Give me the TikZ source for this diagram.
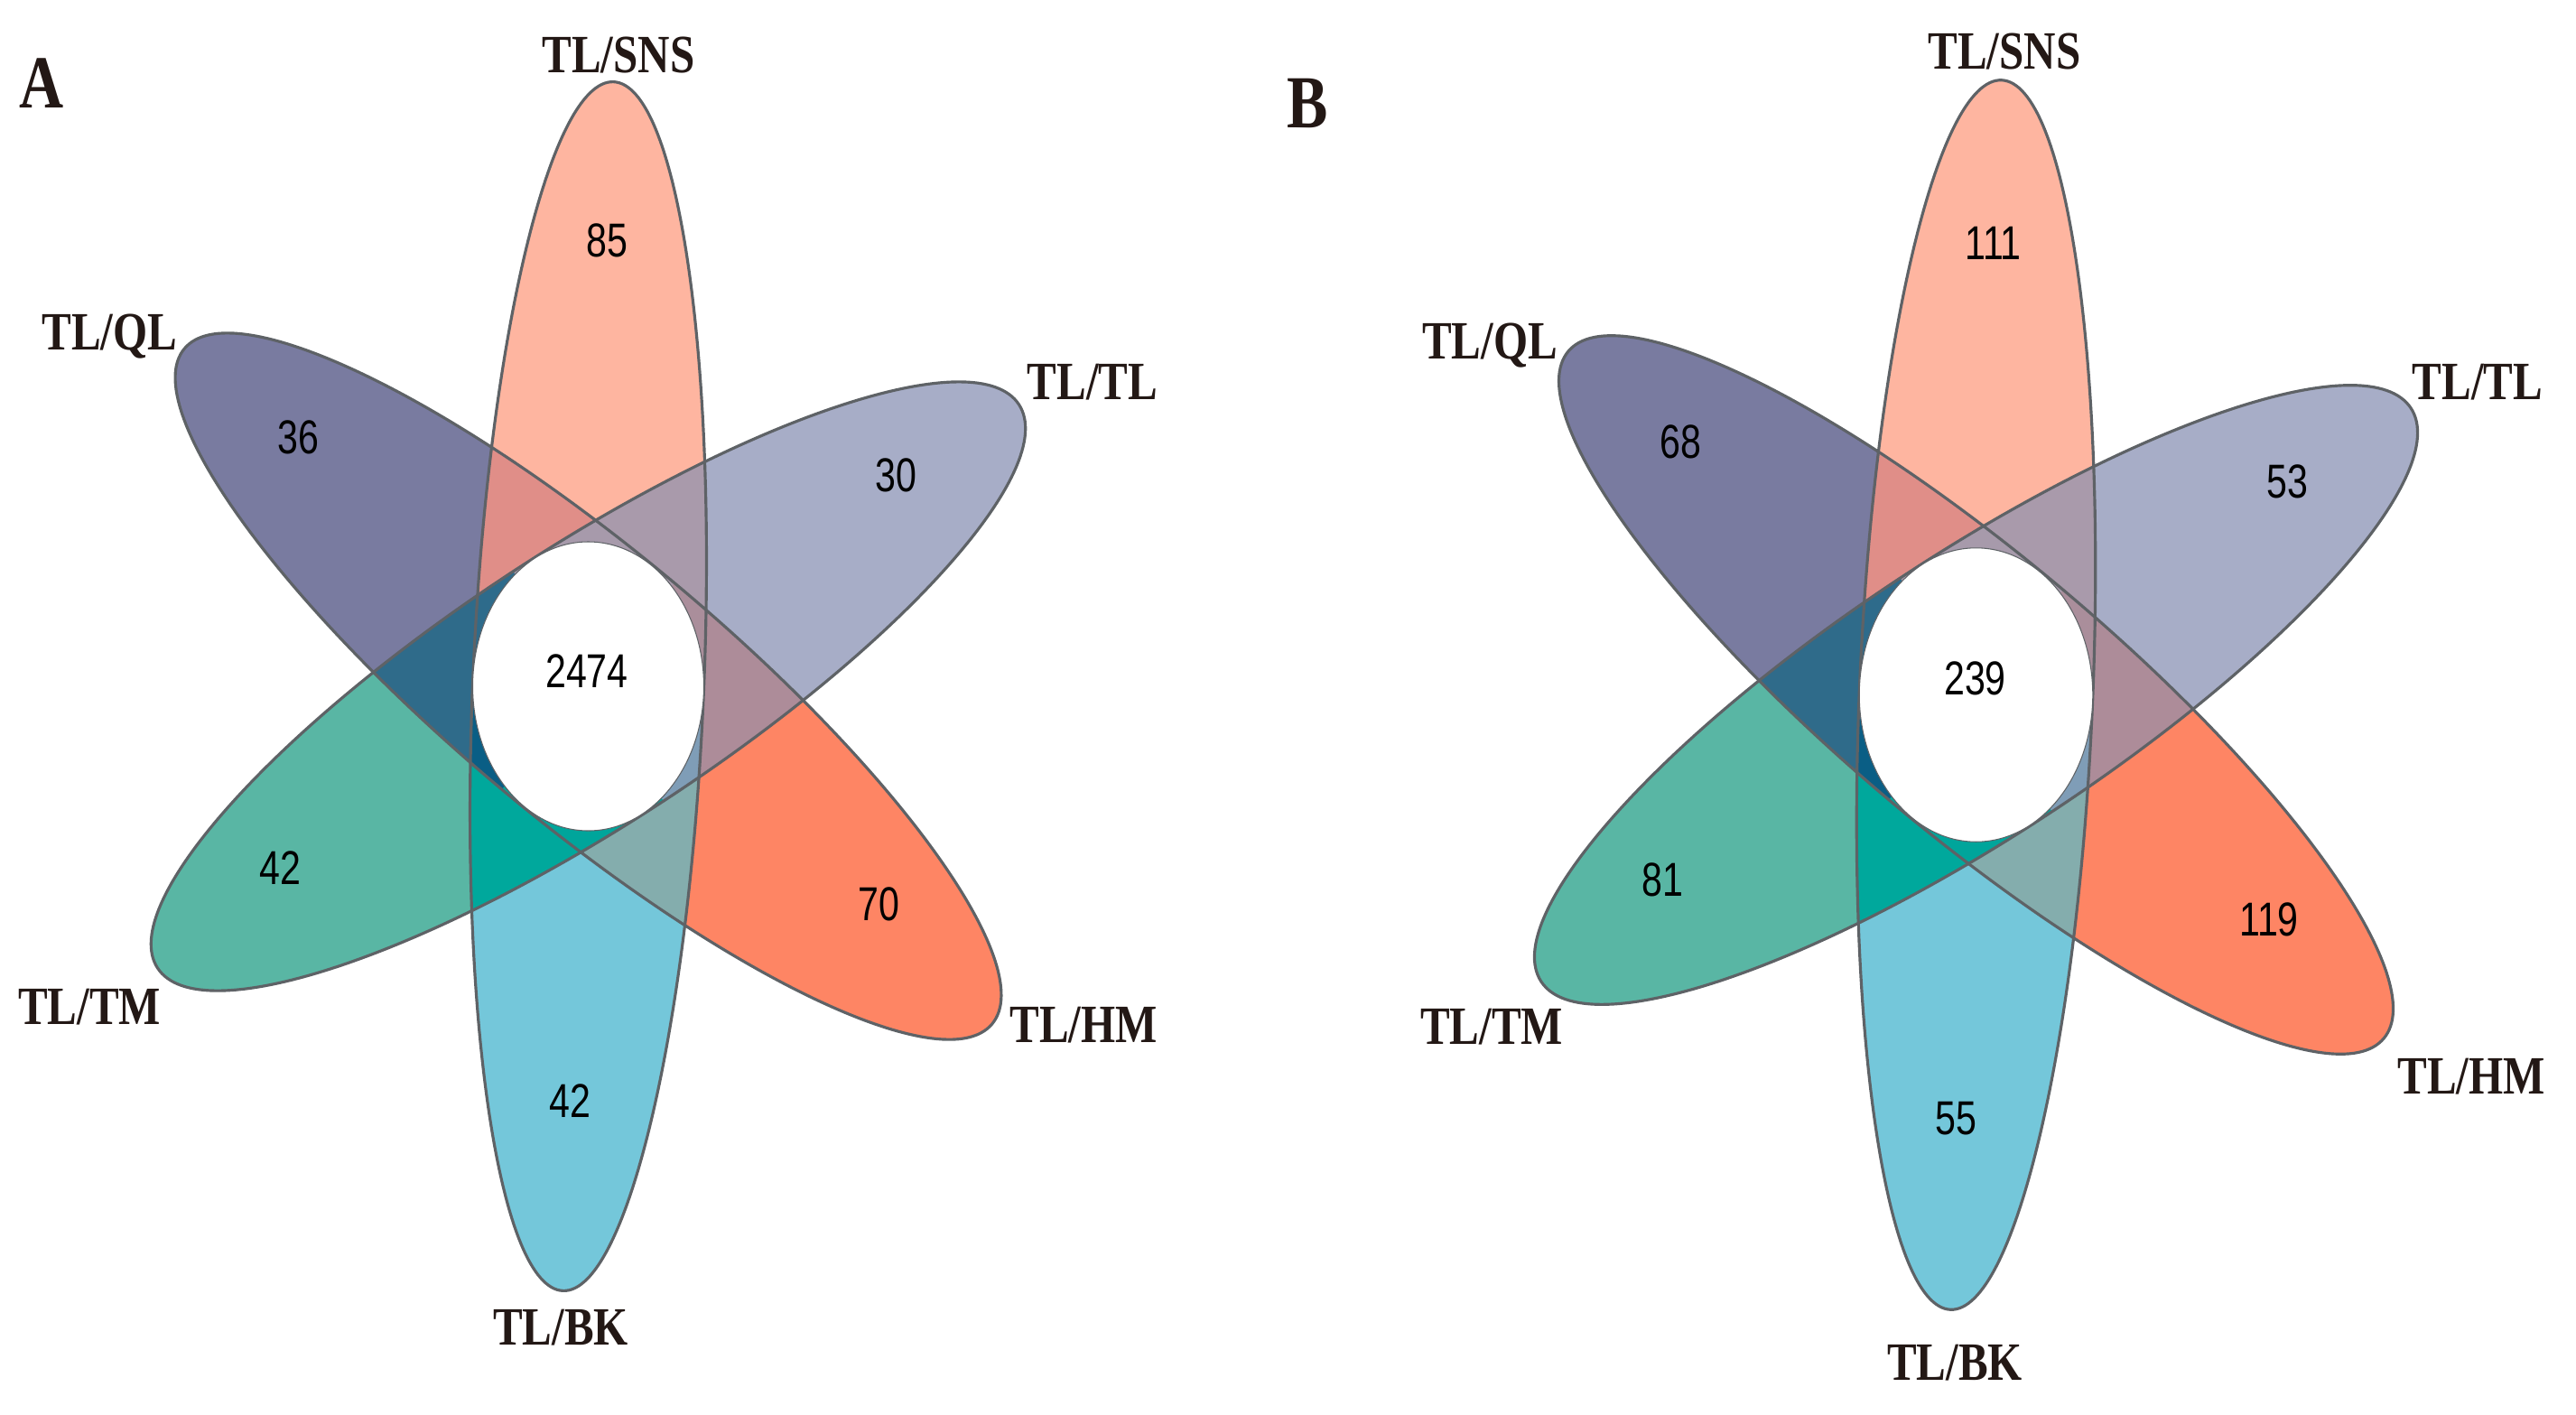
\documentclass[tikz,border=0pt]{standalone}
\usepackage{fontspec}
\usepackage{xcolor}
\usepackage{tikz}
\setmainfont{Liberation Serif}
\newfontfamily\labfont{Liberation Serif}[FakeStretch=0.82]
\newfontfamily\numfont{Liberation Sans}[FakeStretch=0.78]

\definecolor{cSNS}{RGB}{254,181,160}
\definecolor{cQL}{RGB}{121,123,160}
\definecolor{cTL}{RGB}{167,173,199}
\definecolor{cHM}{RGB}{254,133,100}
\definecolor{cBK}{RGB}{116,199,218}
\definecolor{cTM}{RGB}{89,182,164}
\definecolor{cSQ}{RGB}{224,142,136}
\definecolor{cST}{RGB}{169,154,171}
\definecolor{cTH}{RGB}{173,140,153}
\definecolor{cHB}{RGB}{132,173,173}
\definecolor{cBT}{RGB}{0,168,156}
\definecolor{cTQ}{RGB}{47,107,138}
\definecolor{cSTQ}{RGB}{167,154,171}
\definecolor{cSTH}{RGB}{170,142,155}
\definecolor{cBTH}{RGB}{127,157,183}
\definecolor{cBMH}{RGB}{0,165,155}
\definecolor{cBMQ}{RGB}{10,94,133}
\definecolor{cSMQ}{RGB}{46,107,139}
\definecolor{edge}{RGB}{94,98,102}
\definecolor{ink}{RGB}{35,24,21}

% half petals, cut along the short axis
\newcommand{\vup}{(0,-1.28) arc[start angle=-90,end angle=90,x radius=6.70,y radius=1.28] -- cycle}
\newcommand{\vdn}{(0,1.28) arc[start angle=90,end angle=270,x radius=6.70,y radius=1.28] -- cycle}
\newcommand{\aup}{(0,-1.52) arc[start angle=-90,end angle=90,x radius=5.70,y radius=1.52] -- cycle}
\newcommand{\adn}{(0,1.52) arc[start angle=90,end angle=270,x radius=5.70,y radius=1.52] -- cycle}
\newcommand{\bup}{(0,-1.49) arc[start angle=-90,end angle=90,x radius=5.83,y radius=1.49] -- cycle}
\newcommand{\bdn}{(0,1.49) arc[start angle=90,end angle=270,x radius=5.83,y radius=1.49] -- cycle}

\begin{document}
\begin{tikzpicture}[
    rv/.style={rotate=87.6}, ra/.style={rotate=33.2}, rb/.style={rotate=-39.9},
    rim/.style={draw=edge, line width=0.9pt},
    lab/.style={font=\labfont\bfseries\fontsize{17}{20}\selectfont, text=ink, anchor=base, inner sep=0pt},
    num/.style={font=\numfont\fontsize{15}{18}\selectfont, anchor=base, inner sep=0pt},
    pan/.style={font=\labfont\bfseries\fontsize{23.6}{26}\selectfont, text=ink, anchor=base, inner sep=0pt}]
  \useasboundingbox (0,0) rectangle (28.53,15.66);

  \foreach \cx/\cy/\sx/\sy in {6.515/8.06/1/1, 21.885/7.965/1.01/1.017} {
    \begin{scope}[shift={(\cx,\cy)}, xscale=\sx, yscale=\sy]
      \fill[cSNS,rv] \vup; \fill[cBK,rv] \vdn;
      \fill[cTL,ra] \aup; \fill[cTM,ra] \adn;
      \fill[cHM,rb] \bup; \fill[cQL,rb] \bdn;
      % two petals
      \begin{scope} \clip[rv] \vup; \fill[cSQ,rb] \bdn; \fill[cST,ra] \aup; \end{scope}
      \begin{scope} \clip[rv] \vdn; \fill[cHB,rb] \bup; \fill[cBT,ra] \adn; \end{scope}
      \begin{scope} \clip[ra] \aup; \fill[cTH,rb] \bup; \end{scope}
      \begin{scope} \clip[ra] \adn; \fill[cTQ,rb] \bdn; \end{scope}
      % three petals
      \begin{scope} \clip[rv] \vup; \clip[ra] \aup; \fill[cSTQ,rb] \bdn; \fill[cSTH,rb] \bup; \end{scope}
      \begin{scope} \clip[rv] \vup; \clip[ra] \adn; \fill[cSMQ,rb] \bdn; \end{scope}
      \begin{scope} \clip[rv] \vdn; \clip[ra] \aup; \fill[cBTH,rb] \bup; \end{scope}
      \begin{scope} \clip[rv] \vdn; \clip[ra] \adn; \fill[cBMQ,rb] \bdn; \fill[cBMH,rb] \bup; \end{scope}
      \draw[rim,rv] (0,0) ellipse[x radius=6.70,y radius=1.28];
      \draw[rim,ra] (0,0) ellipse[x radius=5.70,y radius=1.52];
      \draw[rim,rb] (0,0) ellipse[x radius=5.83,y radius=1.49];
      \fill[white, draw=edge, line width=0.3pt] (0,0) ellipse[x radius=1.28,y radius=1.60];
    \end{scope}
  }

  \node[pan] (pA) at (0.456,14.465) {A};
  \node[pan] (pB) at (14.48,14.245) {B};

  \node[lab] (aSNS) at (6.85,14.85) {TL/SNS};
  \node[lab] (aQL) at (1.215,11.79) {TL/QL};
  \node[lab] (aTL) at (12.10,11.235) {TL/TL};
  \node[lab] (aTM) at (0.99,4.315) {TL/TM};
  \node[lab] (aHM) at (12.00,4.115) {TL/HM};
  \node[lab] (aBK) at (6.21,0.765) {TL/BK};

  \node[lab] (bSNS) at (22.20,14.895) {TL/SNS};
  \node[lab] (bQL) at (16.50,11.685) {TL/QL};
  \node[lab] (bTL) at (27.44,11.235) {TL/TL};
  \node[lab] (bTM) at (16.52,4.095) {TL/TM};
  \node[lab] (bHM) at (27.37,3.545) {TL/HM};
  \node[lab] (bBK) at (21.65,0.375) {TL/BK};

  \node[num] (nA1) at (6.72,12.82) {85};
  \node[num] (nA2) at (3.30,10.64) {36};
  \node[num] (nA3) at (9.92,10.22) {30};
  \node[num] (nA0) at (6.50,8.05) {2474};
  \node[num] (nA4) at (3.10,5.87) {42};
  \node[num] (nA5) at (9.73,5.47) {70};
  \node[num] (nA6) at (6.31,3.29) {42};

  \node[num] (nB1) at (22.075,12.79) {111};
  \node[num] (nB2) at (18.61,10.59) {68};
  \node[num] (nB3) at (25.33,10.145) {53};
  \node[num] (nB0) at (21.875,7.965) {239};
  \node[num] (nB4) at (18.41,5.735) {81};
  \node[num] (nB5) at (25.13,5.30) {119};
  \node[num] (nB6) at (21.66,3.095) {55};
\end{tikzpicture}
\end{document}
